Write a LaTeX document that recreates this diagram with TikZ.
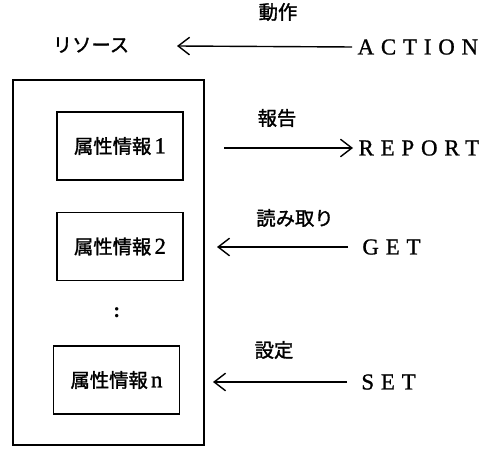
\documentclass[tikz,border=0pt]{standalone}
\usepackage{fontspec}
\setmainfont{Liberation Serif}
\newfontfamily\jpfont[FakeBold=1.5]{Noto Sans CJK JP}
\newfontfamily\opfont[LetterSpace=30,FakeBold=1]{Liberation Serif}
\newfontfamily\numfont[FakeBold=1.2]{Liberation Serif}
\usetikzlibrary{arrows.meta}

\tikzset{
  attr/.style={draw, line width=0.8pt, minimum width=2.52cm, minimum height=1.36cm,
    font=\fontsize{11}{13}\selectfont},
  oplabel/.style={font=\jpfont\fontsize{11}{13}\selectfont},
  opname/.style={anchor=west, inner xsep=3pt, font=\opfont\fontsize{13}{15}\selectfont},
  arr/.style={-{Straight Barb[length=6.5pt,width=10pt]}, line width=0.8pt}
}

\begin{document}
\begin{tikzpicture}[x=0.02cm, y=-0.02cm]
  \useasboundingbox (0,0) rectangle (497,449);
  % resource and its attributes
  \node (res) at (91,45) [oplabel] {リソース};
  \node (rsrc) at (108.5,262.5) [draw, line width=1.6pt, minimum width=3.82cm, minimum height=7.3cm] {};
  \node (attr1) at (120,146) [attr] {{\jpfont 属性情報}\,{\numfont\fontsize{13}{15}\selectfont 1}};
  \node (attr2) at (120,246.5) [attr] {{\jpfont 属性情報}\,{\numfont\fontsize{13}{15}\selectfont 2}};
  \node (dots) at (117,313) [font=\bfseries\large] {:};
  \node (attrn) at (116.5,380) [attr] {{\jpfont 属性情報}\,{\numfont\fontsize{13}{15}\selectfont n}};
  % operations
  \node (l-act) at (278,12) [oplabel] {動作};
  \node (l-rep) at (277,118) [oplabel] {報告};
  \node (l-get) at (295,218) [oplabel] {読み取り};
  \node (l-set) at (274,350) [oplabel] {設定};
  \node (act) at (352,47) [opname] {ACTION};
  \node (rep) at (353,148) [opname] {REPORT};
  \node (get) at (348,247) [opname] {\hspace{5pt}GET};
  \node (set) at (347,382) [opname] {\hspace{5pt}SET};
  \coordinate (act-tip) at (177,46);
  \coordinate (rep-tail) at (224,148);
  \coordinate (get-tip) at (217,247);
  \coordinate (set-tip) at (213,382);
  \draw[arr] (act.west) -- (act-tip);
  \draw[arr] (rep-tail) -- (rep.west);
  \draw[arr] (get.west) -- (get-tip);
  \draw[arr] (set.west) -- (set-tip);
\end{tikzpicture}
\end{document}
